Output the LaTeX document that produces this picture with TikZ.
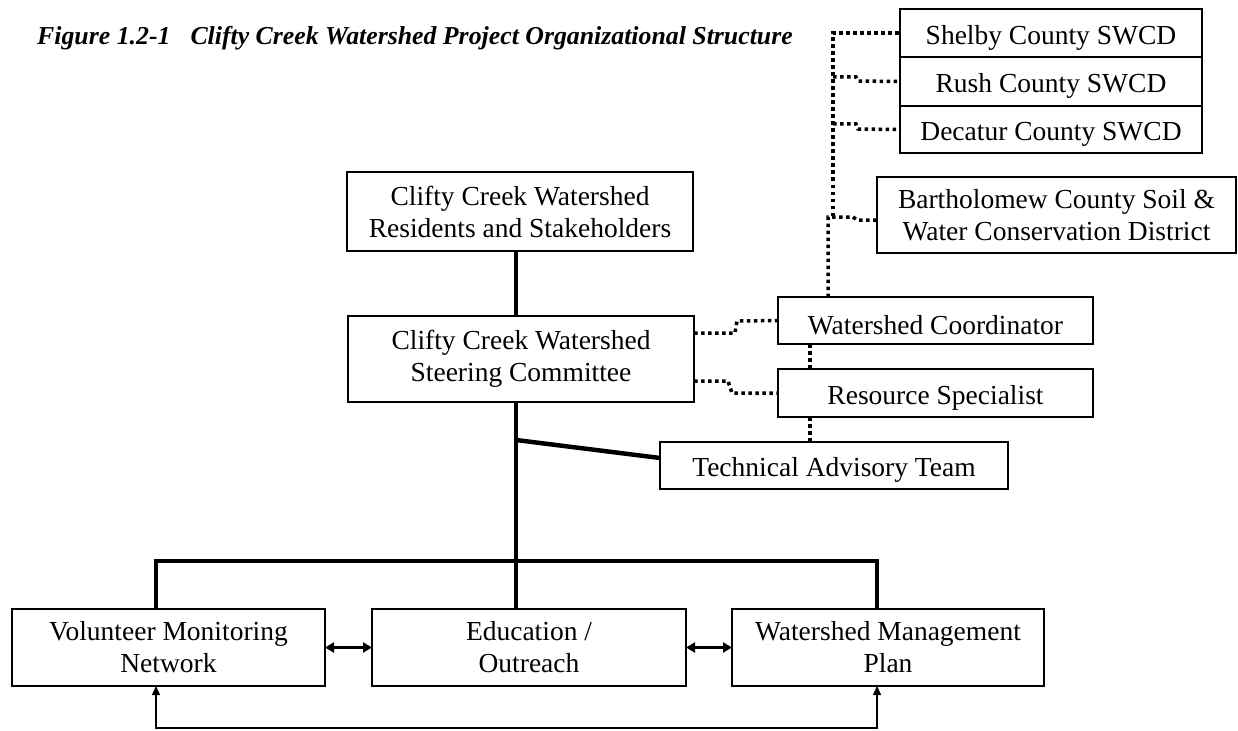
\documentclass[tikz,border=0pt]{standalone}
\usepackage{fontspec}
\setmainfont{Liberation Serif}
\usetikzlibrary{arrows.meta,calc}

\begin{document}
\begin{tikzpicture}[x=1pt,y=-1pt,
  box/.style={draw,line width=2.6pt,inner sep=0pt,outer sep=0pt,align=center,
              font=\fontsize{27.5}{32}\selectfont,
              execute at begin node={\rule{0pt}{28pt}}},
  wide link/.style={line width=4.5pt},
  dot link/.style={line width=3.5pt,dash pattern=on 3.5pt off 3.5pt},
  pair link/.style={line width=2.5pt,
    {Triangle[length=9pt,width=10pt]}-{Triangle[length=9pt,width=10pt]}},
  loop link/.style={line width=1.4pt,
    {Triangle[length=9pt,width=8pt]}-{Triangle[length=9pt,width=8pt]}},
  title text/.style={font=\fontsize{25.8}{30}\selectfont\bfseries\itshape,
                     inner sep=0pt,anchor=base west}]
\useasboundingbox (0,0) rectangle (1238,730);

% caption
\node[title text] (title) at (37,45)
  {Figure 1.2-1\hspace{20pt}Clifty Creek Watershed Project Organizational Structure};

% county districts
\node[box,minimum width=302pt,minimum height=48pt] (shelby)   at (1051,33)    {Shelby County SWCD};
\node[box,minimum width=302pt,minimum height=49pt] (rush)     at (1051,81.5)  {Rush County SWCD};
\node[box,minimum width=302pt,minimum height=47pt] (decatur)  at (1051,129.5) {Decatur County SWCD};
\node[box,minimum width=359pt,minimum height=76pt] (barth)    at (1056.5,215)
  {Bartholomew County Soil \&\\Water Conservation District};

% main chain
\node[box,minimum width=346pt,minimum height=79pt] (residents) at (520,211.5)
  {Clifty Creek Watershed\\Residents and Stakeholders};
\node[box,minimum width=346pt,minimum height=86pt] (steering)  at (521,359)
  {Clifty Creek Watershed\\Steering Committee};

% staff and advisors
\node[box,minimum width=315pt,minimum height=47pt] (coord) at (935.5,320.5) {Watershed Coordinator};
\node[box,minimum width=315pt,minimum height=48pt] (rs)    at (935.5,393)   {Resource Specialist};
\node[box,minimum width=348pt,minimum height=47pt] (tat)   at (834,465.5)   {Technical Advisory Team};

% programme boxes
\node[box,minimum width=313pt,minimum height=77pt] (vol) at (168.5,647.5) {Volunteer Monitoring\\Network};
\node[box,minimum width=314pt,minimum height=77pt] (edu) at (529,647.5)   {Education /\\Outreach};
\node[box,minimum width=312pt,minimum height=77pt] (wmp) at (888,647.5)   {Watershed Management\\Plan};

% guide coordinates
\coordinate (spine) at (516,0);
\coordinate (volx)  at (156,0);
\coordinate (wmpx)  at (877,0);
\coordinate (bar)   at (516,561);
\coordinate (loop)  at (0,728);
\coordinate (tee)   at (516,440);

% solid hierarchy
\draw[wide link] (spine |- residents.south) -- (spine |- steering.north);
\draw[wide link] (spine |- steering.south) -- (bar);
\draw[wide link] (volx |- vol.north) |- (bar) -| (wmpx |- wmp.north);
\draw[wide link] (spine |- edu.north) -- (bar);
\draw[wide link] (tee) -- ($(tat.west)+(0,-7.5)$);

% links between programmes
\draw[pair link] (vol.east) -- (edu.west);
\draw[pair link] (edu.east) -- (wmp.west);
\draw[loop link] (volx |- vol.south) -- (volx |- loop) -| (wmpx |- wmp.south);

% dotted coordination links
\draw[dot link] (steering.east |- 0,333) -- (735,333) -- (737,321) -- (coord.west);
\draw[dot link] (steering.east |- 0,381) -- (728,381) -- (732,393) -- (rs.west);
\draw[dot link] (810,0 |- coord.south) -- (810,0 |- rs.north);
\draw[dot link] (810,0 |- rs.south) -- (810,0 |- tat.north);
\draw[dot link] (828,0 |- coord.north) -- (828,217) -- (853,217) -- (857,220) -- (barth.west |- 0,220);
\draw[dot link] (833,216) -- (833,33) -- (shelby.west);
\draw[dot link] (833,77) -- (856,77) -- (858,81) -- (rush.west);
\draw[dot link] (833,124) -- (856,124) -- (858,129) -- (decatur.west);
\end{tikzpicture}
\end{document}
